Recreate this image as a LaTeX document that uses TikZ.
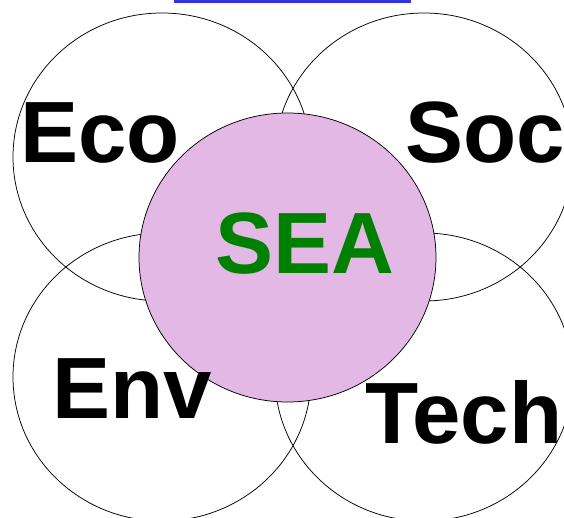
\documentclass[tikz,border=0pt]{standalone}
\usepackage{fontspec}
\setmainfont{Liberation Sans}
\usetikzlibrary{shapes.geometric}

\definecolor{seapink}{RGB}{228,184,228}
\definecolor{seagreen}{RGB}{0,128,0}
\definecolor{topblue}{RGB}{51,51,230}

\tikzset{
  ring/.style={draw=black,line width=0.75pt,ellipse,inner sep=0pt,minimum width=298pt,minimum height=288pt},
  bigword/.style={anchor=base,inner sep=0pt,font=\fontsize{87}{87}\selectfont\bfseries}
}

\begin{document}
\begin{tikzpicture}[x=1pt,y=-1pt]
\useasboundingbox (0,0) rectangle (564,518);

%Straight Lines: blue bar on top
\coordinate (barL) at (174,2);
\coordinate (barR) at (411,2);
\draw [color=topblue,line width=3pt] (barL) -- (barR);

%Shape: Ellipse
\node [ring] (ecoring) at (162,157) {};
%Shape: Ellipse
\node [ring] (socring) at (424,157) {};
%Shape: Ellipse
\node [ring] (envring) at (162,377) {};
%Shape: Ellipse
\node [ring] (techring) at (424,377) {};
%Shape: Ellipse
\node [ring,fill=seapink,minimum width=297pt,minimum height=289pt] (searing) at (287.5,257.5) {};

% Text Node
\node [bigword] (eco) at (100,163) {Eco};
% Text Node
\node [bigword] (soc) at (485,163) {Soc};
% Text Node
\node [bigword,text=seagreen] (sea) at (304.5,273) {SEA};
% Text Node
\node [bigword] (env) at (132.5,418) {Env};
% Text Node
\node [bigword] (tech) at (464,443) {Tech};

\end{tikzpicture}
\end{document}
